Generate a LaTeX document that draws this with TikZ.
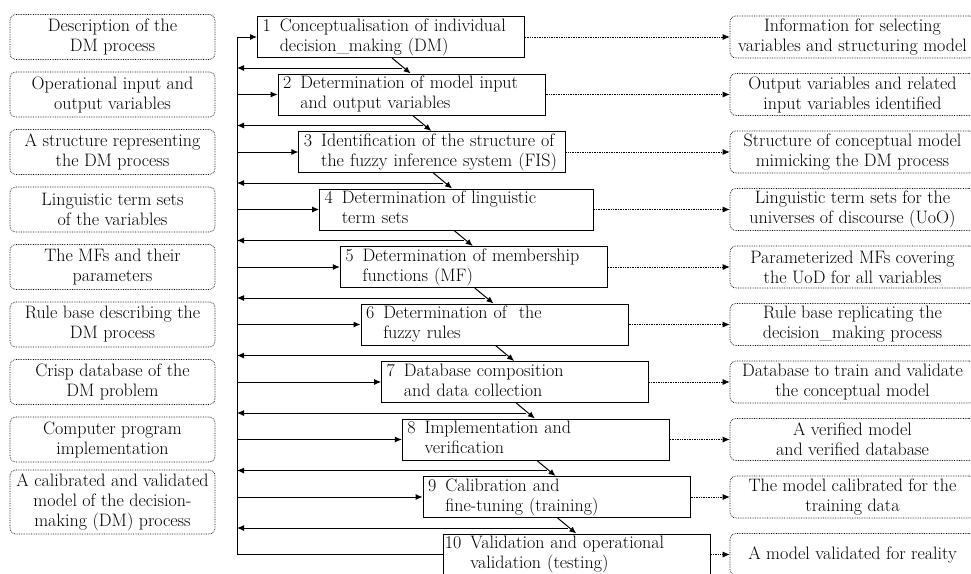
\documentclass[tikz,border=0pt]{standalone}
\usepackage{tikz}
\usetikzlibrary{arrows.meta,positioning,calc}
\newcommand{\stp}[3]{\begin{tabular}{@{}l@{\hspace{9pt}}l@{}}#1&#2\\&#3\end{tabular}}

\begin{document}
\begin{tikzpicture}[
  x=1pt,y=-1pt,
  font=\fontsize{18}{20}\selectfont,
  stepbox/.style={draw,line width=1pt,anchor=north west,text width=257pt,align=left,inner xsep=5pt,inner ysep=0pt,minimum height=41pt},
  inbox/.style={draw,densely dotted,line width=0.7pt,rounded corners=6pt,minimum width=205pt,minimum height=45pt,align=center,inner sep=1pt},
  outbox/.style={inbox,minimum width=245pt,minimum height=42pt},
  arr/.style={-{Latex[length=7pt,width=6pt]},line width=1pt},
  dotarr/.style={-{Latex[length=7pt,width=6pt]},densely dotted,line width=0.7pt}
]
\useasboundingbox (0,0) rectangle (971,573);
% modelling steps
\node[stepbox] (s1) at (257,16) {\stp{1}{Conceptualisation of individual}{decision\_making (DM)}};
\node[stepbox,below right=15.5pt and 20.7pt of s1.south west] (s2) {\stp{2}{Determination of model input}{and output variables}};
\node[stepbox,below right=15.5pt and 20.7pt of s2.south west] (s3) {\stp{3}{Identification of the structure of}{the fuzzy inference system (FIS)}};
\node[stepbox,text width=264pt,below right=15.5pt and 20.7pt of s3.south west] (s4) {\stp{4}{Determination of linguistic}{term sets}};
\node[stepbox,below right=15.5pt and 20.7pt of s4.south west] (s5) {\stp{5}{Determination of membership}{functions (MF)}};
\node[stepbox,below right=15.5pt and 20.7pt of s5.south west] (s6) {\stp{6}{Determination of\ \ the}{fuzzy rules}};
\node[stepbox,below right=15.5pt and 20.7pt of s6.south west] (s7) {\stp{7}{Database composition}{and data collection}};
\node[stepbox,below right=15.5pt and 20.7pt of s7.south west] (s8) {\stp{8}{Implementation and}{verification}};
\node[stepbox,below right=15.5pt and 20.7pt of s8.south west] (s9) {\stp{9}{Calibration and}{fine-tuning (training)}};
\node[stepbox,inner xsep=1pt,text width=265pt,below right=15.5pt and 20.7pt of s9.south west] (s10) {\stp{10}{Validation and operational}{validation (testing)}};
% inputs (left) and outputs (right)
\coordinate (lcol) at (112.5,0); \coordinate (rcol) at (852.5,0); \coordinate (fb) at (237,0);
\node[inbox] (in1) at (lcol |- s1.west) {Description of the\\DM process};
\node[inbox] (in2) at (lcol |- s2.west) {Operational input and\\output variables};
\node[inbox] (in3) at (lcol |- s3.west) {A structure representing\\the DM process};
\node[inbox] (in4) at (lcol |- s4.west) {Linguistic term sets\\of the variables};
\node[inbox] (in5) at (lcol |- s5.west) {The MFs and their\\parameters};
\node[inbox] (in6) at (lcol |- s6.west) {Rule base describing the\\DM process};
\node[inbox] (in7) at (lcol |- s7.west) {Crisp database of the\\DM problem};
\node[inbox] (in8) at (lcol |- s8.west) {Computer program\\implementation};
\node[inbox,minimum height=64pt,yshift=-5pt] (in9) at (lcol |- s9.west) {A calibrated and validated\\model of the decision-\\making (DM) process};
\node[outbox] (out1) at (rcol |- s1.west) {Information for selecting\\variables and structuring model};
\node[outbox] (out2) at (rcol |- s2.west) {Output variables and related\\input variables identified};
\node[outbox] (out3) at (rcol |- s3.west) {Structure of conceptual model\\mimicking the DM process};
\node[outbox] (out4) at (rcol |- s4.west) {Linguistic term sets for the\\universes of discourse (UoO)};
\node[outbox] (out5) at (rcol |- s5.west) {Parameterized MFs covering\\the UoD for all variables};
\node[outbox] (out6) at (rcol |- s6.west) {Rule base replicating the\\decision\_making process};
\node[outbox] (out7) at (rcol |- s7.west) {Database to train and validate\\the conceptual model};
\node[outbox] (out8) at (rcol |- s8.west) {A verified model\\and verified database};
\node[outbox] (out9) at (rcol |- s9.west) {The model calibrated for the\\training data};
\node[outbox] (out10) at (rcol |- s10.west) {A model validated for reality};
% forward steps, feedback loop and products
\draw[arr] (s10.west) -| (fb |- s1.west) -- (s1.west);
\draw[arr] ($(s1.south west)+(135,0)$) -- ($(s2.north west)+(133,0)$); \draw[arr] ($(s1.south west)+(145,10)$) coordinate (m1) -- (m1 -| fb); \draw[arr] (fb |- s2.west) -- (s2.west);
\draw[arr] ($(s2.south west)+(135,0)$) -- ($(s3.north west)+(133,0)$); \draw[arr] ($(s2.south west)+(145,10)$) coordinate (m2) -- (m2 -| fb); \draw[arr] (fb |- s3.west) -- (s3.west);
\draw[arr] ($(s3.south west)+(135,0)$) -- ($(s4.north west)+(133,0)$); \draw[arr] ($(s3.south west)+(145,10)$) coordinate (m3) -- (m3 -| fb); \draw[arr] (fb |- s4.west) -- (s4.west);
\draw[arr] ($(s4.south west)+(135,0)$) -- ($(s5.north west)+(133,0)$); \draw[arr] ($(s4.south west)+(145,10)$) coordinate (m4) -- (m4 -| fb); \draw[arr] (fb |- s5.west) -- (s5.west);
\draw[arr] ($(s5.south west)+(135,0)$) -- ($(s6.north west)+(133,0)$); \draw[arr] ($(s5.south west)+(145,10)$) coordinate (m5) -- (m5 -| fb); \draw[arr] (fb |- s6.west) -- (s6.west);
\draw[arr] ($(s6.south west)+(135,0)$) -- ($(s7.north west)+(133,0)$); \draw[arr] ($(s6.south west)+(145,10)$) coordinate (m6) -- (m6 -| fb); \draw[arr] (fb |- s7.west) -- (s7.west);
\draw[arr] ($(s7.south west)+(135,0)$) -- ($(s8.north west)+(133,0)$); \draw[arr] ($(s7.south west)+(145,10)$) coordinate (m7) -- (m7 -| fb); \draw[arr] (fb |- s8.west) -- (s8.west);
\draw[arr] ($(s8.south west)+(135,0)$) -- ($(s9.north west)+(133,0)$); \draw[arr] ($(s8.south west)+(145,10)$) coordinate (m8) -- (m8 -| fb); \draw[arr] (fb |- s9.west) -- (s9.west);
\draw[arr] ($(s9.south west)+(135,0)$) -- ($(s10.north west)+(133,0)$); \draw[arr] ($(s9.south west)+(145,10)$) coordinate (m9) -- (m9 -| fb);
\draw[dotarr] (s1.east) -- (out1.west); \draw[dotarr] (s2.east) -- (out2.west); \draw[dotarr] (s3.east) -- (out3.west);
\draw[dotarr] (s4.east) -- (out4.west); \draw[dotarr] (s5.east) -- (out5.west); \draw[dotarr] (s6.east) -- (out6.west);
\draw[dotarr] (s7.east) -- (out7.west); \draw[dotarr] (s8.east) -- (out8.west); \draw[dotarr] (s9.east) -- (out9.west);
\draw[dotarr] (s10.east) -- (out10.west);
\end{tikzpicture}
\end{document}
